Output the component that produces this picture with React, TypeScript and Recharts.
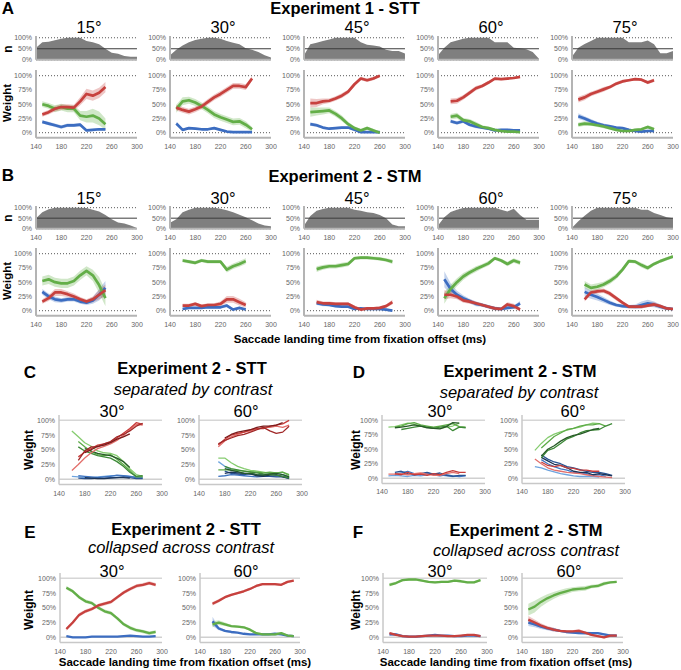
import { ComposedChart, Area, Line, XAxis, YAxis, ReferenceLine } from "recharts";

const FONT = '"Liberation Sans", Arial, Helvetica, sans-serif';
const RED = "#c7413e";
const GREEN = "#63ae48";
const BLUE = "#3c6dc1";
const REDS = ["#e36f6b", "#c83c3a", "#a02828", "#7a1c1c"];
const GREENS = ["#86cc70", "#5eab48", "#3e8a38", "#275a27"];
const BLUES = ["#6fa4de", "#3f74c0", "#2a5392", "#1c3457"];

const ANGLES = ["15°", "30°", "45°", "60°", "75°"];

// n (share of trials) per landing time
const nX = [140, 150, 160, 170, 180, 190, 200, 210, 220, 230, 240, 250, 260, 270, 280, 290, 300];
const nA15 = [55, 80, 82, 89, 95, 100, 100, 100, 85, 80, 70, 50, 32, 27, 17, 14, 14];
const nA30 = [20, 45, 65, 80, 90, 95, 100, 100, 95, 85, 77, 70, 52, 45, 35, 20, 10];
const nA45 = [20, 70, 77, 85, 92, 100, 100, 100, 100, 80, 68, 65, 60, 45, 40, 40, 28];
const nA60 = [20, 55, 80, 88, 95, 100, 100, 100, 100, 80, 80, 80, 55, 52, 48, 35, 5];
const nA75 = [15, 55, 72, 85, 100, 100, 100, 100, 100, 80, 80, 80, 88, 70, 30, 30, 40];
const nB15 = [50, 78, 92, 100, 100, 100, 100, 100, 98, 90, 82, 65, 45, 30, 25, 15, 3];
const nB30 = [28, 45, 78, 90, 100, 100, 100, 100, 95, 88, 78, 66, 55, 40, 25, 15, 12];
const nB45 = [15, 60, 85, 94, 100, 100, 100, 100, 90, 85, 78, 75, 65, 50, 20, 12, 12];
const nB60 = [15, 55, 80, 90, 98, 100, 100, 100, 100, 100, 90, 82, 95, 65, 43, 43, 43];
const nB75 = [5, 35, 62, 85, 100, 100, 100, 100, 100, 100, 100, 90, 90, 75, 65, 55, 50];

// Experiment 1 - STT
const a15X = [150, 160, 170, 180, 190, 200, 210, 220, 230, 240, 250];
const a15Red = [32, 36, 42, 45, 45, 44, 55, 68, 65, 70, 80];
const a15RedCi = [4, 4, 5, 5, 5, 5, 7, 9, 9, 9, 9];
const a15Green = [50, 47, 42, 45, 42, 42, 30, 28, 30, 25, 15];
const a15GreenCi = [5, 5, 6, 6, 6, 6, 8, 10, 12, 12, 10];
const a15Blue = [19, 16, 13, 10, 13, 13, 14, 4, 5, 6, 6];
const a15BlueCi = [3, 3, 3, 3, 3, 3, 3, 2, 2, 2, 2];

const a30X = [150, 160, 170, 180, 190, 200, 210, 220, 230, 240, 250, 260, 270];
const a30Red = [44, 40, 37, 41, 46, 54, 62, 68, 75, 82, 82, 80, 95];
const a30RedCi = [5, 5, 5, 5, 5, 5, 5, 5, 5, 5, 5, 5, 4];
const a30Green = [42, 55, 57, 53, 47, 40, 32, 27, 23, 19, 20, 14, 6];
const a30GreenCi = [7, 7, 6, 6, 6, 6, 6, 6, 6, 6, 6, 6, 4];
const a30Blue = [16, 5, 8, 7, 6, 6, 8, 5, 2, 1, 1, 1, 1];
const a30BlueCi = [3, 2, 2, 2, 2, 2, 2, 2, 1, 1, 1, 1, 1];

const a45X = [150, 160, 170, 180, 190, 200, 210, 220, 230, 240, 250, 260];
const a45Red = [52, 52, 55, 56, 60, 65, 72, 85, 95, 92, 95, 100];
const a45RedCi = [8, 7, 5, 4, 4, 4, 4, 3, 3, 3, 3, 2];
const a45Green = [36, 37, 38, 39, 33, 25, 15, 8, 4, 8, 4, 0];
const a45GreenCi = [8, 7, 6, 5, 5, 5, 4, 3, 3, 3, 3, 2];
const a45Blue = [15, 13, 9, 7, 8, 9, 9, 5, 1, 1, 1, 1];
const a45BlueCi = [3, 3, 2, 2, 2, 2, 2, 2, 1, 1, 1, 1];

const a60X = [160, 170, 180, 190, 200, 210, 220, 230, 240, 250, 260, 270];
const a60Red = [55, 56, 62, 70, 78, 82, 88, 95, 94, 95, 96, 98];
const a60RedCi = [5, 5, 4, 4, 4, 3, 3, 2, 2, 2, 2, 2];
const a60Green = [28, 30, 22, 20, 15, 10, 8, 5, 3, 2, 2, 1];
const a60GreenCi = [5, 5, 4, 4, 4, 3, 3, 2, 2, 2, 2, 1];
const a60Blue = [20, 17, 20, 14, 11, 9, 7, 4, 5, 5, 4, 4];
const a60BlueCi = [3, 3, 3, 3, 3, 2, 2, 2, 2, 2, 2, 2];

const a75X = [150, 160, 170, 180, 190, 200, 210, 220, 230, 240, 250, 260, 270];
const a75Red = [58, 62, 68, 72, 76, 80, 86, 90, 92, 94, 93, 88, 92];
const a75RedCi = [5, 5, 4, 4, 4, 3, 3, 3, 2, 2, 2, 3, 3];
const a75Green = [14, 16, 15, 13, 11, 8, 5, 3, 3, 5, 6, 10, 6];
const a75GreenCi = [4, 4, 3, 3, 3, 3, 2, 2, 2, 2, 2, 3, 3];
const a75Blue = [29, 25, 20, 16, 13, 11, 9, 8, 5, 3, 2, 3, 3];
const a75BlueCi = [5, 4, 4, 3, 3, 3, 2, 2, 2, 2, 2, 2, 2];

// Experiment 2 - STM
const b15X = [150, 160, 170, 180, 190, 200, 210, 220, 230, 240, 250];
const b15Green = [52, 55, 50, 48, 48, 52, 62, 70, 62, 45, 22];
const b15GreenCi = [8, 8, 8, 8, 8, 8, 8, 8, 10, 14, 14];
const b15Red = [16, 22, 32, 32, 29, 25, 20, 16, 20, 28, 36];
const b15RedCi = [4, 5, 6, 6, 5, 5, 4, 4, 5, 8, 10];
const b15Blue = [33, 25, 20, 18, 20, 20, 16, 14, 18, 28, 40];
const b15BlueCi = [5, 5, 5, 4, 4, 4, 4, 4, 6, 10, 12];

const b30X = [160, 170, 180, 190, 200, 210, 220, 230, 240, 250, 260];
const b30Green = [88, 86, 84, 88, 86, 86, 86, 72, 78, 82, 87];
const b30GreenCi = [3, 3, 3, 3, 3, 3, 3, 5, 5, 5, 5];
const b30Red = [9, 9, 12, 8, 10, 10, 12, 20, 20, 15, 10];
const b30RedCi = [3, 3, 3, 3, 3, 3, 4, 6, 6, 6, 5];
const b30Blue = [3, 5, 5, 5, 6, 6, 6, 9, 2, 5, 2];
const b30BlueCi = [2, 2, 2, 2, 2, 2, 2, 3, 2, 2, 2];

const b45X = [160, 170, 180, 190, 200, 210, 220, 230, 240, 250, 260, 270, 280];
const b45Green = [73, 76, 78, 78, 80, 82, 92, 93, 93, 92, 91, 89, 86];
const b45GreenCi = [5, 4, 4, 4, 4, 4, 3, 3, 3, 3, 3, 3, 4];
const b45Red = [15, 13, 13, 12, 12, 12, 6, 2, 4, 4, 5, 8, 15];
const b45RedCi = [4, 3, 3, 3, 3, 3, 3, 2, 2, 2, 3, 3, 4];
const b45Blue = [13, 11, 10, 8, 7, 7, 3, 4, 3, 3, 3, 2, 0];
const b45BlueCi = [3, 3, 2, 2, 2, 2, 2, 2, 2, 2, 2, 2, 2];

const b60X = [150, 160, 170, 180, 190, 200, 210, 220, 230, 240, 250, 260, 270];
const b60Green = [22, 38, 50, 60, 67, 73, 78, 83, 92, 88, 82, 88, 84];
const b60GreenCi = [10, 8, 7, 6, 5, 5, 4, 4, 3, 3, 4, 4, 4];
const b60Red = [28, 28, 25, 18, 16, 13, 10, 7, 4, 3, 11, 8, 2];
const b60RedCi = [8, 6, 5, 4, 4, 3, 3, 3, 3, 3, 4, 4, 3];
const b60Blue = [55, 38, 28, 22, 17, 12, 10, 7, 4, 3, 5, 6, 13];
const b60BlueCi = [14, 10, 7, 5, 4, 4, 3, 3, 3, 3, 3, 3, 4];

const b75X = [160, 170, 180, 190, 200, 210, 220, 230, 240, 250, 260, 270, 280, 290, 300];
const b75Green = [46, 40, 42, 46, 52, 60, 72, 87, 86, 80, 75, 82, 87, 91, 95];
const b75GreenCi = [6, 6, 6, 5, 5, 5, 4, 3, 3, 4, 4, 3, 3, 3, 3];
const b75Red = [20, 32, 34, 35, 30, 22, 14, 7, 7, 7, 9, 11, 8, 4, 3];
const b75RedCi = [4, 4, 4, 4, 4, 4, 3, 3, 3, 3, 3, 4, 3, 2, 2];
const b75Blue = [33, 28, 24, 19, 14, 10, 8, 7, 7, 10, 13, 11, 7, 4, 3];
const b75BlueCi = [8, 7, 6, 5, 4, 3, 3, 3, 4, 6, 6, 5, 4, 3, 2];

// Experiment 2 - STT separated by contrast
const c30X = [160, 170, 180, 190, 200, 210, 220, 230, 240, 250, 260, 270];
const c30Red1 = [15, 25, 36, 45, 52, 56, 60, 66, 74, 84, 93, 92];
const c30Red2 = [null, 38, 46, 52, 58, 60, 63, 70, 78, 86, 96, 93];
const c30Red3 = [null, 32, 48, 55, 55, 60, 64, 72, 76, 82, 90, 95];
const c30Red4 = [null, null, 45, 50, 56, 58, 62, 68, 72, 77, null, null];
const c30Green1 = [82, 72, 62, 56, 48, 45, 44, 40, 30, 18, 8, 5];
const c30Green2 = [null, 64, 55, 47, 42, 40, 42, 34, 25, 15, 4, 4];
const c30Green3 = [null, 55, 48, 44, 40, 38, 36, 30, 22, 12, 5, 6];
const c30Green4 = [null, null, 52, 48, 44, 42, 40, 36, 30, 20, null, null];
const c30Blue1 = [5, 4, 3, 3, 4, 5, 6, 6, 6, 5, 4, 2];
const c30Blue2 = [null, 6, 5, 4, 3, 4, 5, 7, 6, 5, 3, 3];
const c30Blue3 = [null, 2, 1, 1, 2, 2, 3, 3, 4, 3, 1, 1];
const c30Blue4 = [null, null, 3, 2, 1, 1, 2, 3, 3, 2, null, null];

const c60X = [170, 180, 190, 200, 210, 220, 230, 240, 250, 260, 270, 280];
const c60Red1 = [55, 65, 72, 76, 80, 82, 85, 88, 88, 90, 88, 92];
const c60Red2 = [58, 68, 75, 78, 80, 84, 86, 86, 90, 92, 94, 100];
const c60Red3 = [60, 66, 70, 74, 76, 80, 84, 88, 82, 78, 80, 90];
const c60Red4 = [null, 70, 76, 80, 82, 84, 88, 90, 90, 92, 96, null];
const c60Green1 = [36, 36, 28, 22, 18, 15, 14, 12, 10, 10, 12, 6];
const c60Green2 = [16, 16, 16, 15, 14, 13, 12, 11, 12, 11, 12, 8];
const c60Green3 = [null, 22, 18, 16, 14, 12, 11, 9, 8, 7, 5, 2];
const c60Green4 = [null, 18, 15, 13, 10, 10, 8, 7, 9, 10, 8, 4];
const c60Blue1 = [30, 22, 16, 12, 10, 9, 8, 8, 9, 10, 8, 4];
const c60Blue2 = [5, 6, 8, 7, 6, 5, 4, 5, 5, 6, 5, 3];
const c60Blue3 = [null, 14, 10, 9, 8, 10, 7, 6, 5, 4, 4, 1];
const c60Blue4 = [null, 10, 12, 11, 10, 9, 6, 5, 7, 8, 4, 2];

// Experiment 2 - STM separated by contrast
const d30X = [150, 160, 170, 180, 190, 200, 210, 220, 230, 240, 250, 260, 270];
const d30Green1 = [88, 89, 92, 95, 93, 90, 88, 87, 86, 88, 90, 95, null];
const d30Green2 = [null, 88, 90, 94, 96, 92, 90, 88, 90, 92, 94, 89, 88];
const d30Green3 = [null, null, 84, 86, 88, 90, 88, 86, 88, 90, 82, 88, 87];
const d30Green4 = [null, 87, 88, 90, 92, 90, 87, 86, 85, 89, 96, 95, null];
const d30Red1 = [7, 7, 8, 6, 8, 9, 7, 5, 5, 8, 10, 8, null];
const d30Red2 = [null, 8, 6, 10, 6, 7, 5, 8, 6, 10, 13, 10, 10];
const d30Blue1 = [4, 5, 4, 3, 5, 4, 6, 8, 6, 4, 3, 4, null];
const d30Blue2 = [null, 6, 9, 12, 8, 6, 9, 6, 4, 6, 4, 3, 4];
const d30Blue3 = [null, 10, 12, 8, 6, 8, 10, 7, 9, 5, 3, 5, 5];

const d60X = [160, 170, 180, 190, 200, 210, 220, 230, 240, 250, 260, 270, 280];
const d60Green1 = [48, 60, 70, 76, 80, 83, 86, 88, 92, 95, 94, null, null];
const d60Green2 = [null, 52, 62, 72, 78, 84, 86, 90, 92, 92, 94, 90, null];
const d60Green3 = [null, 35, 48, 52, 60, 68, 72, 78, 82, 83, 84, 90, 94];
const d60Green4 = [null, 38, 50, 56, 64, 70, 74, 76, 80, 84, 86, null, null];
const d60Red1 = [33, 25, 18, 14, 12, 10, 9, 8, 6, 4, 3, 2, 1];
const d60Red2 = [null, 28, 22, 20, 22, 18, 17, 14, 14, 12, 12, null, null];
const d60Blue1 = [20, 18, 14, 11, 8, 6, 4, 3, 3, 3, 2, null, null];
const d60Blue2 = [null, 32, 25, 20, 16, 14, 10, 9, 8, 5, 6, 3, null];
const d60Blue3 = [null, 40, 33, 28, 25, 20, 18, 15, 12, 10, 10, 8, 5];
const d60Blue4 = [null, 36, 30, 24, 22, 18, 12, 10, 10, 6, 8, 6, 4];

// Experiment 2 - STT collapsed
const e30X = [150, 160, 170, 180, 190, 200, 210, 220, 230, 240, 250, 260, 270, 280, 290];
const e30Red = [14, 25, 38, 44, 48, 54, 57, 60, 68, 76, 82, 87, 89, 92, 89];
const e30RedCi = [3, 3, 3, 3, 3, 3, 3, 3, 3, 3, 3, 3, 3, 3, 3];
const e30Green = [84, 78, 68, 61, 58, 50, 44, 41, 32, 22, 16, 12, 10, 7, 9];
const e30GreenCi = [3, 3, 3, 3, 3, 3, 3, 3, 3, 3, 3, 3, 3, 3, 3];
const e30Blue = [2, 0, 0, 0, 1, 1, 1, 1, 1, 2, 3, 2, 1, 1, 2];
const e30BlueCi = [1, 1, 1, 1, 1, 1, 1, 1, 1, 1, 1, 1, 1, 1, 1];

const e60X = [160, 170, 180, 190, 200, 210, 220, 230, 240, 250, 260, 270, 280, 290];
const e60Red = [57, 62, 68, 72, 75, 78, 82, 87, 90, 90, 90, 89, 94, 96];
const e60RedCi = [3, 3, 2, 2, 2, 2, 2, 2, 2, 2, 2, 2, 2, 2];
const e60Green = [22, 25, 22, 19, 18, 17, 13, 7, 5, 5, 5, 7, 3, 2];
const e60GreenCi = [5, 4, 3, 2, 2, 2, 2, 2, 2, 2, 2, 2, 2, 2];
const e60Blue = [27, 15, 11, 9, 8, 6, 5, 5, 5, 5, 6, 5, 3, 2];
const e60BlueCi = [8, 3, 2, 2, 1, 1, 1, 1, 1, 1, 1, 1, 1, 1];

// Experiment 2 - STM collapsed
const fX = [150, 160, 170, 180, 190, 200, 210, 220, 230, 240, 250, 260, 270, 280, 290];
const f30Green = [89, 92, 97, 98, 98, 96, 94, 93, 94, 94, 96, 95, 93, 93, 97];
const f30GreenCi = [3, 2, 2, 2, 2, 2, 2, 2, 2, 2, 2, 2, 2, 2, 2];
const f30Red = [7, 4, 2, 1, 1, 2, 3, 3, 3, 2, 2, 3, 4, 4, 2];
const f30RedCi = [2, 1, 1, 1, 1, 1, 1, 1, 1, 1, 1, 1, 1, 1, 1];
const f30Blue = [5, 5, 2, 1, 1, 2, 3, 4, 3, 3, 2, 2, 3, 3, 2];
const f30BlueCi = [3, 2, 1, 1, 1, 1, 1, 1, 1, 1, 1, 1, 1, 1, 1];
const f60Green = [47, 52, 60, 66, 71, 75, 78, 81, 82, 83, 86, 87, 91, 93, 94];
const f60GreenCi = [10, 10, 8, 7, 6, 5, 5, 4, 4, 4, 3, 3, 3, 2, 2];
const f60Red = [30, 25, 20, 16, 13, 11, 10, 10, 11, 8, 4, 2, 0, 3, 3];
const f60RedCi = [6, 5, 4, 3, 3, 2, 2, 2, 3, 2, 2, 2, 2, 2, 2];
const f60Blue = [25, 22, 18, 15, 13, 11, 9, 8, 7, 7, 7, 7, 5, 3, 3];
const f60BlueCi = [6, 5, 4, 3, 3, 2, 2, 2, 2, 3, 2, 2, 2, 2, 2];

type Series = { v: (number | null)[]; ci?: number[]; color: string; w?: number };

const tri = (
  red: number[], redCi: number[], green: number[], greenCi: number[], blue: number[], blueCi: number[], w = 2.7
): Series[] => [
  { v: blue, ci: blueCi, color: BLUE, w },
  { v: green, ci: greenCi, color: GREEN, w },
  { v: red, ci: redCi, color: RED, w },
];

const thin = (reds: (number | null)[][], greens: (number | null)[][], blues: (number | null)[][]): Series[] => [
  ...blues.map((v, i) => ({ v, color: BLUES[i], w: 1.3 })),
  ...greens.map((v, i) => ({ v, color: GREENS[i], w: 1.3 })),
  ...reds.map((v, i) => ({ v, color: REDS[i], w: 1.3 })),
];

type PlotProps = {
  left: number;
  width: number;
  y100: number;
  y0: number;
  xs: number[];
  series?: Series[];
  n?: number[];
  look: "dot" | "grid";
  xTicks?: boolean;
  yTicks: number[];
  domain: [number, number];
};

function Plot({ left, width, y100, y0, xs, series = [], n, look, xTicks = true, yTicks, domain }: PlotProps) {
  const k = (y0 - y100) / 100;
  const plotTop = y100 - (domain[1] - 100) * k;
  const plotH = (domain[1] - domain[0]) * k;
  const YW = 34;
  const PT = 3;
  const PR = 12;
  const XH = xTicks ? 16 : 2;
  const data = xs.map((x, i) => {
    const row: Record<string, unknown> = { x };
    if (n) row.n = n[i];
    series.forEach((s, j) => {
      const v = s.v[i];
      row["s" + j] = v;
      if (s.ci && v != null) row["b" + j] = [v - s.ci[i], v + s.ci[i]];
    });
    return row;
  });
  const axisStroke = look === "dot" ? "#b4b4b4" : "#c8c8c8";
  const axisW = look === "dot" ? 2 : 1.5;
  const tickStyle = { fontSize: 7, fill: "#666", stroke: "none", fontFamily: FONT };
  return (
    <div style={{ position: "absolute", left: left - YW, top: plotTop - PT }}>
      <ComposedChart
        width={YW + width + PR}
        height={PT + plotH + XH}
        data={data}
        margin={{ top: PT, right: PR, bottom: 0, left: 0 }}
      >
        <XAxis
          dataKey="x"
          type="number"
          domain={[140, 300]}
          ticks={[140, 180, 220, 260, 300]}
          interval={0}
          allowDataOverflow
          height={XH}
          tickLine={false}
          tickSize={4}
          tick={xTicks ? tickStyle : false}
          axisLine={{ stroke: axisStroke, strokeWidth: axisW }}
        />
        <YAxis
          type="number"
          domain={domain}
          ticks={yTicks}
          interval={0}
          allowDataOverflow
          width={YW}
          tickLine={false}
          tickSize={2}
          tick={tickStyle}
          tickFormatter={(v) => v + "%"}
          axisLine={{ stroke: axisStroke, strokeWidth: axisW }}
        />
        {n && (
          <Area
            dataKey="n"
            type="linear"
            stroke="none"
            fill="#7f7f7f"
            fillOpacity={1}
            isAnimationActive={false}
          />
        )}
        {look === "dot" ? (
          <>
            <ReferenceLine y={100} stroke="#555" strokeDasharray="1 2" />
            <ReferenceLine y={0} stroke="#555" strokeDasharray="1 2" />
          </>
        ) : (
          <>
            <ReferenceLine y={100} stroke="#d6d6d6" strokeWidth={1.5} />
            <ReferenceLine y={0} stroke="#d0d0d0" strokeWidth={1.5} />
          </>
        )}
        {n && <ReferenceLine y={50} stroke="#3a3a3a" strokeWidth={1} />}
        {series.map((s, j) =>
          s.ci ? (
            <Area
              key={"b" + j}
              dataKey={"b" + j}
              type="linear"
              stroke="none"
              fill={s.color}
              fillOpacity={0.3}
              isAnimationActive={false}
            />
          ) : null
        )}
        {series.map((s, j) => (
          <Line
            key={"s" + j}
            dataKey={"s" + j}
            type="linear"
            stroke={s.color}
            strokeWidth={s.w ?? 2.5}
            dot={false}
            strokeLinejoin="round"
            isAnimationActive={false}
          />
        ))}
      </ComposedChart>
    </div>
  );
}

function T({
  x, y, s, size, bold, italic, rot,
}: { x: number; y: number; s: string; size: number; bold?: boolean; italic?: boolean; rot?: boolean }) {
  return (
    <div
      style={{
        position: "absolute",
        left: x,
        top: y,
        transform: `translate(-50%, -50%)${rot ? " rotate(-90deg)" : ""}`,
        fontSize: size,
        fontWeight: bold ? 700 : 400,
        fontStyle: italic ? "italic" : "normal",
        whiteSpace: "nowrap",
        lineHeight: 1,
        fontFamily: FONT,
        color: "#000",
      }}
    >
      {s}
    </div>
  );
}

const COLS = [36, 170, 304, 438, 572];
const W_TICKS = [0, 25, 50, 75, 100];
const N_TICKS = [0, 50, 100];
const W_DOM: [number, number] = [-9, 110];
const N_DOM: [number, number] = [0, 108];
const G_DOM: [number, number] = [-9, 109];

const aN = [nA15, nA30, nA45, nA60, nA75];
const bN = [nB15, nB30, nB45, nB60, nB75];
const aW = [
  { xs: a15X, s: tri(a15Red, a15RedCi, a15Green, a15GreenCi, a15Blue, a15BlueCi) },
  { xs: a30X, s: tri(a30Red, a30RedCi, a30Green, a30GreenCi, a30Blue, a30BlueCi) },
  { xs: a45X, s: tri(a45Red, a45RedCi, a45Green, a45GreenCi, a45Blue, a45BlueCi) },
  { xs: a60X, s: tri(a60Red, a60RedCi, a60Green, a60GreenCi, a60Blue, a60BlueCi) },
  { xs: a75X, s: tri(a75Red, a75RedCi, a75Green, a75GreenCi, a75Blue, a75BlueCi) },
];
const bW = [
  { xs: b15X, s: tri(b15Red, b15RedCi, b15Green, b15GreenCi, b15Blue, b15BlueCi) },
  { xs: b30X, s: tri(b30Red, b30RedCi, b30Green, b30GreenCi, b30Blue, b30BlueCi) },
  { xs: b45X, s: tri(b45Red, b45RedCi, b45Green, b45GreenCi, b45Blue, b45BlueCi) },
  { xs: b60X, s: tri(b60Red, b60RedCi, b60Green, b60GreenCi, b60Blue, b60BlueCi) },
  { xs: b75X, s: tri(b75Red, b75RedCi, b75Green, b75GreenCi, b75Blue, b75BlueCi) },
];

export default function App() {
  return (
    <div
      style={{
        position: "absolute",
        left: 0,
        top: 0,
        width: 681,
        height: 670,
        background: "#fff",
        overflow: "hidden",
        fontFamily: FONT,
      }}
    >
      {/* A */}
      <T x={8} y={8} s="A" size={17} bold />
      <T x={345} y={8} s="Experiment 1 - STT" size={16.5} bold />
      <T x={8} y={49} s="n" size={12} bold rot />
      <T x={8} y={103} s="Weight" size={11.5} bold rot />
      {COLS.map((c, i) => (
        <div key={"a" + i}>
          <T x={c + 53} y={27} s={ANGLES[i]} size={16.5} />
          <Plot left={c} width={101} y100={38} y0={60} xs={nX} n={aN[i]} look="dot" xTicks={false} yTicks={N_TICKS} domain={N_DOM} />
          <Plot left={c} width={101} y100={76} y0={133} xs={aW[i].xs} series={aW[i].s} look="dot" yTicks={W_TICKS} domain={W_DOM} />
        </div>
      ))}

      {/* B */}
      <T x={8} y={175} s="B" size={17} bold />
      <T x={345} y={176} s="Experiment 2 - STM" size={16.5} bold />
      <T x={8} y={218} s="n" size={12} bold rot />
      <T x={8} y={281} s="Weight" size={11.5} bold rot />
      {COLS.map((c, i) => (
        <div key={"b" + i}>
          <T x={c + 53} y={198} s={ANGLES[i]} size={16.5} />
          <Plot left={c} width={101} y100={208} y0={229} xs={nX} n={bN[i]} look="dot" yTicks={N_TICKS} domain={N_DOM} />
          <Plot left={c} width={101} y100={254} y0={311} xs={bW[i].xs} series={bW[i].s} look="dot" yTicks={W_TICKS} domain={W_DOM} />
        </div>
      ))}
      <T x={360} y={340} s="Saccade landing time from fixation offset (ms)" size={11.5} bold />

      {/* C */}
      <T x={30} y={372} s="C" size={17} bold />
      <T x={192} y={368} s="Experiment 2 - STT" size={16.5} bold />
      <T x={193} y={389} s="separated by contrast" size={16.5} italic />
      <T x={112} y={411} s="30°" size={16.5} />
      <T x={246} y={411} s="60°" size={16.5} />
      <T x={29} y={450} s="Weight" size={12} bold rot />
      <Plot left={59} width={103} y100={420} y0={479} xs={c30X} look="grid" yTicks={W_TICKS} domain={G_DOM}
        series={thin([c30Red1, c30Red2, c30Red3, c30Red4], [c30Green1, c30Green2, c30Green3, c30Green4], [c30Blue1, c30Blue2, c30Blue3, c30Blue4])} />
      <Plot left={199} width={103} y100={420} y0={479} xs={c60X} look="grid" yTicks={W_TICKS} domain={G_DOM}
        series={thin([c60Red1, c60Red2, c60Red3, c60Red4], [c60Green1, c60Green2, c60Green3, c60Green4], [c60Blue1, c60Blue2, c60Blue3, c60Blue4])} />

      {/* D */}
      <T x={359} y={372} s="D" size={17} bold />
      <T x={520} y={371} s="Experiment 2 - STM" size={16.5} bold />
      <T x={519} y={392} s="separated by contrast" size={16.5} italic />
      <T x={440} y={411} s="30°" size={16.5} />
      <T x={573} y={411} s="60°" size={16.5} />
      <T x={356} y={450} s="Weight" size={12} bold rot />
      <Plot left={382} width={103} y100={420} y0={478} xs={d30X} look="grid" yTicks={W_TICKS} domain={G_DOM}
        series={thin([d30Red1, d30Red2], [d30Green1, d30Green2, d30Green3, d30Green4], [d30Blue1, d30Blue2, d30Blue3])} />
      <Plot left={522} width={103} y100={420} y0={478} xs={d60X} look="grid" yTicks={W_TICKS} domain={G_DOM}
        series={thin([d60Red1, d60Red2], [d60Green1, d60Green2, d60Green3, d60Green4], [d60Blue1, d60Blue2, d60Blue3, d60Blue4])} />

      {/* E */}
      <T x={30} y={532} s="E" size={17} bold />
      <T x={186} y={529} s="Experiment 2 - STT" size={16.5} bold />
      <T x={181} y={547} s="collapsed across contrast" size={16.5} italic />
      <T x={112} y={571} s="30°" size={16.5} />
      <T x={246} y={571} s="60°" size={16.5} />
      <T x={29} y={610} s="Weight" size={12} bold rot />
      <Plot left={60} width={102} y100={578} y0={637} xs={e30X} look="grid" yTicks={W_TICKS} domain={G_DOM}
        series={tri(e30Red, e30RedCi, e30Green, e30GreenCi, e30Blue, e30BlueCi, 2.3)} />
      <Plot left={200} width={100} y100={578} y0={637} xs={e60X} look="grid" yTicks={W_TICKS} domain={G_DOM}
        series={tri(e60Red, e60RedCi, e60Green, e60GreenCi, e60Blue, e60BlueCi, 2.3)} />
      <T x={185} y={663} s="Saccade landing time from fixation offset (ms)" size={11.5} bold />

      {/* F */}
      <T x={358} y={532} s="F" size={17} bold />
      <T x={526} y={530} s="Experiment 2 - STM" size={16.5} bold />
      <T x={526} y={550} s="collapsed across contrast" size={16.5} italic />
      <T x={440} y={571} s="30°" size={16.5} />
      <T x={569} y={571} s="60°" size={16.5} />
      <T x={356} y={610} s="Weight" size={12} bold rot />
      <Plot left={383} width={104} y100={578} y0={637} xs={fX} look="grid" yTicks={W_TICKS} domain={G_DOM}
        series={tri(f30Red, f30RedCi, f30Green, f30GreenCi, f30Blue, f30BlueCi, 2.3)} />
      <Plot left={522} width={101} y100={578} y0={637} xs={fX} look="grid" yTicks={W_TICKS} domain={G_DOM}
        series={tri(f60Red, f60RedCi, f60Green, f60GreenCi, f60Blue, f60BlueCi, 2.3)} />
      <T x={506} y={663} s="Saccade landing time from fixation offset (ms)" size={11.5} bold />
    </div>
  );
}
